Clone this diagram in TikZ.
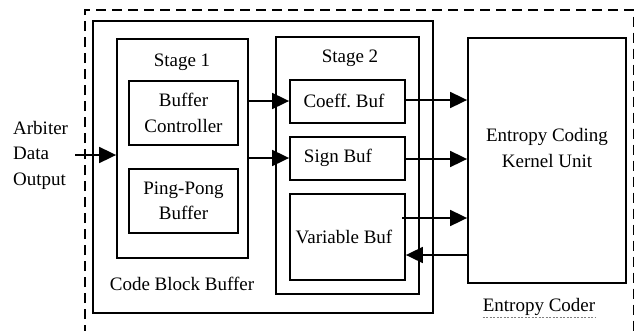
\documentclass[tikz,border=0pt]{standalone}
\usepackage{fontspec}
\setmainfont{Liberation Serif}
\usetikzlibrary{arrows.meta}
\frenchspacing
\begin{document}
\begin{tikzpicture}[x=1pt,y=-1pt,
  box/.style={draw,line width=1.8pt,inner sep=0pt},
  lbl/.style={font=\fontsize{19}{25.5}\selectfont,align=center,inner sep=0pt},
  arr/.style={line width=1.8pt,-{Triangle[length=17pt,width=16pt]}},
  dashbox/.style={line width=1.8pt,dash pattern=on 10pt off 6pt}]
\useasboundingbox (0,0) rectangle (635,330);
% outer dashed region (cut by the page)
\draw[dashbox] (85,335) -- (85,10) -- (633.5,10) -- (633.5,335);
% boxes
\node[box,minimum width=340pt,minimum height=292pt] (cbb) at (263,167) {};
\node[box,minimum width=131pt,minimum height=219pt] (s1) at (182.5,148.5) {};
\node[box,minimum width=109pt,minimum height=64pt] (bc) at (183.5,113) {};
\node[box,minimum width=109pt,minimum height=64pt] (pp) at (183.5,201) {};
\node[box,minimum width=143pt,minimum height=257pt] (s2) at (347.5,165.5) {};
\node[box,minimum width=115pt,minimum height=43pt] (cb) at (347.5,101.5) {};
\node[box,minimum width=115pt,minimum height=43pt] (sb) at (347.5,158.5) {};
\node[box,minimum width=115pt,minimum height=86pt] (vb) at (347.5,237) {};
\node[box,minimum width=158pt,minimum height=245pt] (ec) at (547,160.5) {};
% texts
\node[lbl] (t1) at (182,62) {Stage 1};
\node[lbl] (t2) at (350,58) {Stage 2};
\node[lbl] (tbc) at (bc.center) {Buffer\\Controller};
\node[lbl] (tpp) at (pp.center) {Ping-Pong\\Buffer};
\node[lbl] (tcb) at (344,101) {Coeff.\ Buf};
\node[lbl] (tsb) at (338,158) {Sign Buf};
\node[lbl] (tvb) at (344,237) {Variable Buf};
\node[lbl] (tcbb) at (182,284) {Code Block Buffer};
\node[lbl] (tec) at (547,148) {Entropy Coding\\Kernel Unit};
\node[lbl] (tcoder) at (539,307) {Entropy Coder};
\draw[line width=0.5pt,dash pattern=on 2pt off 1.5pt,gray,transform canvas={yshift=-1.5pt}] (tcoder.south west) -- (tcoder.south east);
\node[lbl,align=left,anchor=west] (arb) at (13,155) {Arbiter\\Data\\Output};
% connectors
\coordinate (in) at (75,155);
\draw[arr] (in) -- (s1.west |- in);
\draw[arr] (s1.east |- 0,101) -- (cb.west |- 0,101);
\draw[arr] (s1.east |- 0,158) -- (sb.west |- 0,158);
\draw[arr] (cb.east |- 0,100) -- (ec.west |- 0,100);
\draw[arr] (sb.east |- 0,159) -- (ec.west |- 0,159);
\draw[arr] (402,218) -- (ec.west |- 0,218);
\draw[arr] (ec.west |- 0,255) -- (vb.east |- 0,255);
\end{tikzpicture}
\end{document}
